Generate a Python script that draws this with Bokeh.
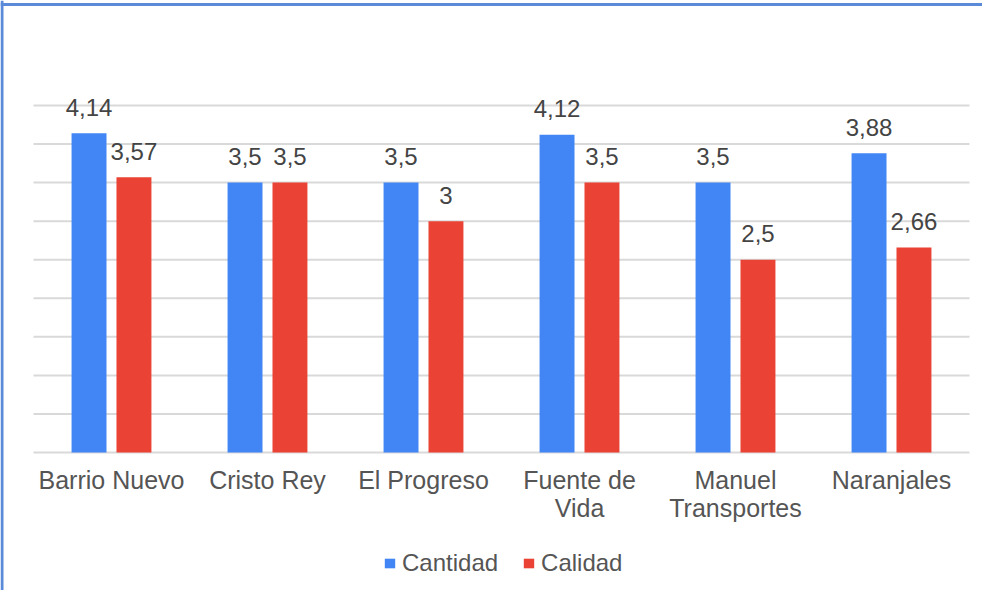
from bokeh.plotting import figure
from bokeh.models import ColumnDataSource, Legend, LegendItem, Range1d, Span
from bokeh.transform import dodge
from bokeh.core.properties import value
from bokeh.embed import file_html
from bokeh.resources import INLINE

categories = ["Barrio Nuevo", "Cristo Rey", "El Progreso", "Fuente de\nVida", "Manuel\nTransportes", "Naranjales"]
cantidad = [4.14, 3.5, 3.5, 4.12, 3.5, 3.88]
calidad = [3.57, 3.5, 3.0, 3.5, 2.5, 2.66]
series_names = ["Cantidad", "Calidad"]
grid_ticks = [0, 0.5, 1, 1.5, 2, 2.5, 3, 3.5, 4, 4.5]

BLUE = "#4285F4"
RED = "#EA4335"
BORDER = "#5b8ad8"
FONT = "Liberation Sans"

W, H = 982, 590

def fmt(v):
    return f"{v:g}".replace(".", ",")

idx = list(range(len(categories)))
src = ColumnDataSource(dict(
    x=idx,
    cat=categories,
    zero=[0] * len(categories),
    cantidad=cantidad,
    calidad=calidad,
    lab_cant=[fmt(v) for v in cantidad],
    lab_cal=[fmt(v) for v in calidad],
))

p = figure(
    x_range=Range1d(-0.7115, 5.5833),
    y_range=Range1d(-1.7896, 5.8617),
    width=W, height=H,
    output_backend="svg", toolbar_location=None,
    min_border_left=0, min_border_right=0, min_border_top=0, min_border_bottom=0,
)
p.outline_line_color = None
p.background_fill_color = "white"
p.border_fill_color = "white"
p.xaxis.visible = False
p.yaxis.visible = False
p.xgrid.visible = False
p.ygrid.visible = False

# gridlines spanning the category area
n = len(categories)
p.segment(x0=[-0.5] * len(grid_ticks), x1=[n - 0.5] * len(grid_ticks), y0=grid_ticks, y1=grid_ticks,
          line_color="#d9d9d9", line_width=2)

off = 0.144
w = 0.224
r1 = p.vbar(x=dodge("x", -off), top="cantidad", width=w, source=src,
            fill_color=BLUE, line_color=None)
r2 = p.vbar(x=dodge("x", off), top="calidad", width=w, source=src,
            fill_color=RED, line_color=None)

for col, lab, o in (("cantidad", "lab_cant", -off), ("calidad", "lab_cal", off)):
    p.text(x=dodge("x", o), y=col, text=lab, source=src,
           text_align="center", text_baseline="alphabetic", y_offset=-26,
           text_font=value(FONT), text_font_size="24px", text_color="#444444")

# category labels
p.text(x="x", y="zero", text="cat", source=src, text_align="center", text_baseline="top",
       y_offset=13, text_font=value(FONT), text_font_size="25px", text_color="#555555",
       text_line_height=1.03)

legend = Legend(items=[LegendItem(label=series_names[0], renderers=[r1]),
                       LegendItem(label=series_names[1], renderers=[r2])],
                orientation="horizontal", location=(383, 13))
legend.label_text_font = FONT
legend.label_text_font_size = "24px"
legend.label_text_color = "#555555"
legend.glyph_width = 13
legend.glyph_height = 12
legend.label_standoff = 6
legend.spacing = 24
legend.border_line_color = None
legend.background_fill_alpha = 0
legend.padding = 0
legend.margin = 0
p.add_layout(legend, "center")

# chart border (left and top)
p.add_layout(Span(location=1.5, location_units="screen", dimension="height",
                  line_color=BORDER, line_width=3))
p.add_layout(Span(location=H - 4, location_units="screen", dimension="width",
                  line_color=BORDER, line_width=3))

open("out.html", "w").write(file_html(p, INLINE))
